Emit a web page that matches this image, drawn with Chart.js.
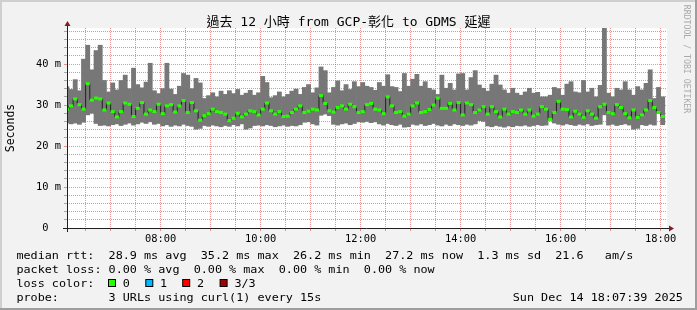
<!DOCTYPE html>
<html>
<head>
<meta charset="utf-8">
<script src="https://cdn.jsdelivr.net/npm/chart.js@4.4.1/dist/chart.umd.min.js"></script>
<style>
  html, body { margin: 0; padding: 0; background: #f2f2f2; }
  #wrap { position: relative; width: 697px; height: 310px; }
  canvas { display: block; }
</style>
</head>
<body>
<div id="wrap"><canvas id="c" width="697" height="310"></canvas></div>
<script>
// ---------------- data ----------------
const START_TIME = '06:07:39';
const END_TIME = '18:07:39';
const FIRST_BAR = '06:05';
const STEP_MIN = 5;
const Y_MAX = 48.8;

const maxRtt = [
  34.5, 33.8, 36.2, 33.5, 41.2, 44.6, 38.6, 43.3, 44.6, 36.0, 33.2, 35.4, 33.7, 36.0, 37.3,
  34.0, 39.0, 35.0, 34.2, 35.6, 40.2, 33.5, 32.8, 34.0, 40.2, 33.9, 32.6, 34.6, 37.7,
  37.3, 34.0, 36.5, 35.4, 31.6, 32.3, 33.0, 32.0, 33.4, 32.6, 33.5, 32.8, 33.8, 32.4, 32.9,
  33.6, 32.4, 33.0, 37.0, 35.5, 31.8, 32.3, 33.2, 32.0, 32.6, 33.4, 33.9, 32.6, 34.3,
  35.0, 33.0, 34.2, 39.3, 38.4, 33.0, 34.3, 35.9, 33.5, 35.0, 33.8, 35.7, 34.5, 35.5, 34.6,
  34.3, 33.6, 35.5, 34.6, 37.4, 34.5, 34.3, 33.3, 37.7, 34.6, 36.3, 37.5, 34.6,
  35.7, 34.1, 33.7, 32.6, 37.3, 34.1, 35.3, 33.7, 37.6, 37.7, 33.7, 36.7, 38.4, 34.9, 34.1,
  33.4, 35.1, 37.3, 34.9, 33.7, 32.9, 34.1, 32.9, 32.4, 33.2, 34.1, 32.9, 33.1, 32.0,
  32.0, 32.4, 34.3, 34.0, 32.4, 35.1, 35.7, 33.2, 33.0, 36.0, 33.2, 34.1, 32.0, 34.8, 48.8,
  32.9, 32.0, 34.1, 33.7, 35.7, 33.7, 32.4, 34.5, 33.7, 35.3, 38.6, 31.6, 34.3, 32.0
];
const minRtt = [
  25.7, 25.4, 25.6, 25.3, 25.8, 27.6, 28.0, 25.5, 25.0, 25.1, 24.9, 25.2,
  25.4, 25.0, 25.3, 25.6, 25.1, 25.4, 25.8, 25.5, 25.9, 25.3, 25.5,
  24.9, 25.2, 24.8, 25.1, 24.9, 25.3, 25.0, 24.8, 24.1, 24.3,
  25.0, 24.8, 25.1, 24.9, 24.7, 25.0, 24.8, 25.2, 24.9, 25.4, 24.1, 24.4,
  25.0, 25.1, 24.9, 25.2, 25.0, 24.7, 24.9, 25.1, 24.8, 25.0, 24.9, 25.2, 25.8,
  25.9, 25.4, 25.1, 27.5, 27.8, 27.4, 25.3, 25.1, 25.4, 25.6, 25.2, 25.5,
  25.9, 25.8, 26.0, 25.7, 25.9, 25.4, 25.1, 25.5, 25.2, 25.0, 25.3, 24.6, 24.7,
  25.3, 25.1, 25.4, 25.0, 25.2, 25.5, 25.1, 24.9, 25.3, 25.0, 25.4, 25.2, 25.0, 25.3, 25.1, 25.4,
  26.2, 26.0, 24.9, 24.7, 25.0, 24.8, 24.6, 24.9, 24.7,
  25.0, 24.9, 25.1, 24.8, 25.0, 25.2, 25.0, 25.1, 26.3, 25.6,
  25.3, 25.1, 25.4, 25.2, 25.0, 25.3, 25.1, 25.4, 25.0, 25.2, 25.3, 27.6,
  25.1, 25.3, 25.0, 25.2, 25.4, 25.1, 24.1, 24.3, 25.2, 25.0, 25.3, 25.1, 27.9, 25.2
];
const medianRtt = [
  29.0, 29.8, 31.5, 30.1, 29.0, 35.2, 31.2, 31.7, 31.5, 28.8, 30.5, 28.4, 27.1, 28.4, 30.5,
  30.2, 27.2, 29.2, 30.6, 27.8, 28.8, 28.4, 30.2, 27.9, 29.8, 30.1, 28.3, 29.8, 31.1,
  28.2, 30.6, 28.6, 26.3, 27.4, 27.9, 29.0, 28.4, 28.2, 27.8, 26.2, 26.8, 28.0, 27.1, 27.8,
  28.6, 28.4, 27.6, 29.0, 30.5, 28.6, 27.8, 28.4, 27.2, 27.3, 28.2, 29.0, 29.8, 28.2,
  28.5, 29.0, 28.8, 32.3, 30.4, 28.6, 28.3, 29.4, 29.8, 29.0, 30.2, 29.6, 28.2, 28.4, 30.1,
  30.4, 29.0, 28.8, 27.9, 32.0, 29.8, 28.2, 28.4, 27.3, 27.8, 29.8, 30.5, 28.2,
  28.4, 28.9, 30.0, 31.7, 29.2, 29.2, 30.4, 28.8, 30.6, 27.6, 30.5, 30.1, 28.2, 28.8, 29.6,
  27.8, 29.6, 28.4, 27.1, 29.0, 27.8, 28.4, 28.2, 28.8, 27.8, 28.8, 27.3, 27.8, 29.6,
  29.0, 26.5, 28.2, 30.9, 29.0, 28.9, 27.1, 28.5, 27.8, 27.0, 28.6, 27.8, 26.8, 29.6, 30.2,
  28.2, 27.9, 30.1, 29.4, 27.9, 26.9, 28.8, 27.0, 27.6, 28.8, 31.1, 29.4, 28.2, 27.2
];

const xTickLabels = ['08:00', '10:00', '12:00', '14:00', '16:00', '18:00'];
const yLabelValues = [0, 10, 20, 30, 40];
const yTickLabels = ['0', '10 m', '20 m', '30 m', '40 m'];

const titleText = '過去 12 小時 from GCP-彰化 to GDMS 延遲';
const yAxisTitle = 'Seconds';
const watermark = 'RRDTOOL / TOBI OETIKER';
const rttHead = 'median rtt:';
const rttStats = ['28.9 ms avg', '35.2 ms max', '26.2 ms min', '27.2 ms now', '1.3 ms sd', '21.6   am/s'];
const lossHead = 'packet loss:';
const lossStats = ['0.00 % avg', '0.00 % max', '0.00 % min', '0.00 % now'];
const colorHead = 'loss color:';
const lossLabels = ['0', '1', '2', '3/3'];
const lossColors = ['#26ff00', '#00b8ff', '#ff0000', '#a10000'];
const probeHead = 'probe:';
const probeText = '3 URLs using curl(1) every 15s';
const stampText = 'Sun Dec 14 18:07:39 2025';

// ---------------- build ----------------
function toMin(t) {
  const p = t.split(':').map(Number);
  return p[0] * 60 + p[1] + (p[2] || 0) / 60;
}
function fmt(m) {
  const h = Math.floor(m / 60), mm = Math.round(m % 60);
  return String(h).padStart(2, '0') + ':' + String(mm).padStart(2, '0');
}
const xMin = toMin(START_TIME), xMax = toMin(END_TIME);
const barStart = toMin(FIRST_BAR);
const barX = maxRtt.map((_, i) => barStart + STEP_MIN * (i + 0.5));

const smokeData = barX.map((x, i) => ({ x, y: [minRtt[i], maxRtt[i]] }));
const medianData = barX.map((x, i) => ({ x, y: medianRtt[i] }));

const xGridTicks = [];
for (let m = Math.ceil(xMin / 30) * 30; m <= xMax; m += 30) xGridTicks.push(m);
const yGridTicks = [];
for (let v = 0; v <= Y_MAX; v += 2) yGridTicks.push(v);

const MONO = "'DejaVu Sans Mono', monospace";
const GRID = 'rgba(143,143,143,0.75)';
const MGRID = 'rgba(222,79,79,0.6)';
const AXIS = '#1f1f1f';
const ARROW = '#801f1f';
const LEG_FONT = "11px " + MONO;
const LEG_ADV = 7.09;   // column width of the legend text, px

const deco = {
  id: 'deco',
  beforeDraw(chart) {
    const { ctx, chartArea: a, width: W, height: H } = chart;
    ctx.save();
    ctx.fillStyle = '#f2f2f2';
    ctx.fillRect(0, 0, W, H);
    ctx.fillStyle = '#cfcfcf';
    ctx.fillRect(0, 0, W, 2);
    ctx.fillRect(0, 0, 2, H);
    ctx.fillStyle = '#9e9e9e';
    ctx.fillRect(0, H - 2, W, 2);
    ctx.fillRect(W - 2, 0, 2, H);
    ctx.fillStyle = '#ffffff';
    ctx.fillRect(a.left, a.top, a.right - a.left, a.bottom - a.top);
    ctx.restore();
  },
  afterDraw(chart) {
    const { ctx, chartArea: a, width: W } = chart;
    const xs = chart.scales.x, ys = chart.scales.y;
    const x0 = Math.round(xs.getPixelForValue(xMin)) + 0.5;
    const y0 = Math.round(ys.getPixelForValue(0)) + 0.5;
    ctx.save();
    // title
    ctx.font = "13px 'DejaVu Sans Mono', 'Noto Sans CJK TC', monospace";
    ctx.fillStyle = '#000';
    ctx.textAlign = 'center';
    ctx.textBaseline = 'middle';
    ctx.fillText(titleText, W / 2, 23);

    // axes
    ctx.strokeStyle = AXIS;
    ctx.lineWidth = 1;
    ctx.beginPath();
    ctx.moveTo(a.left - 4, y0); ctx.lineTo(a.right + 3, y0);
    ctx.moveTo(x0, a.bottom + 4); ctx.lineTo(x0, a.top - 4);
    ctx.stroke();
    // arrows
    ctx.fillStyle = ARROW;
    ctx.beginPath();
    ctx.moveTo(a.right + 2, y0 - 3); ctx.lineTo(a.right + 7, y0); ctx.lineTo(a.right + 2, y0 + 3);
    ctx.closePath(); ctx.fill();
    ctx.beginPath();
    ctx.moveTo(x0 - 3, a.top - 2); ctx.lineTo(x0, a.top - 7); ctx.lineTo(x0 + 3, a.top - 2);
    ctx.closePath(); ctx.fill();

    // watermark
    ctx.save();
    ctx.translate(686.5, 59);
    ctx.rotate(Math.PI / 2);
    ctx.font = "8.2px " + MONO;
    ctx.fillStyle = '#aaaaaa';
    ctx.textAlign = 'center';
    ctx.textBaseline = 'middle';
    ctx.fillText(watermark, 0, 0);
    ctx.restore();

    // legend (monospace columns)
    ctx.font = LEG_FONT;
    ctx.textBaseline = 'middle';
    const sx = LEG_ADV / ctx.measureText('0').width;
    const L = 16.4;
    const col = (n) => L + n * LEG_ADV;
    const text = (s, x, y, align) => {
      ctx.save();
      ctx.translate(x, y);
      ctx.scale(sx, 1);
      ctx.textAlign = align || 'left';
      ctx.fillStyle = '#000';
      ctx.fillText(s, 0, 0);
      ctx.restore();
    };
    const r1 = 256, r2 = 270, r3 = 284, r4 = 298;
    text(rttHead, col(0), r1);
    text(rttStats.join('\u00a0\u00a0'), col(13), r1);
    text(lossHead, col(0), r2);
    text(lossStats.join('\u00a0\u00a0'), col(13), r2);
    text(colorHead, col(0), r3);
    const boxX = [108, 145.3, 182.2, 219.6];
    lossLabels.forEach((t, i) => {
      ctx.fillStyle = lossColors[i];
      ctx.fillRect(boxX[i] + 0.5, r3 - 4.5, 7, 7);
      ctx.strokeStyle = '#000';
      ctx.lineWidth = 1;
      ctx.strokeRect(boxX[i] + 0.5, r3 - 4.5, 7, 7);
      text(t, boxX[i] + 14.8, r3);
    });
    text(probeHead, col(0), r4);
    text(probeText, col(13), r4);
    text(stampText, col(94), r4, 'right');
    ctx.restore();
  }
};

const stepPx = (c) => {
  const s = c.chart.scales.x;
  return (s.getPixelForValue(STEP_MIN) - s.getPixelForValue(0)) / 2;
};

new Chart(document.getElementById('c'), {
  type: 'bar',
  data: {
    datasets: [
      {
        type: 'bar',
        data: smokeData,
        backgroundColor: '#777777',
        borderWidth: 0,
        barPercentage: 1,
        categoryPercentage: 1,
        order: 3
      },
      {
        type: 'line',
        data: medianData,
        stepped: 'middle',
        borderColor: '#202020',
        borderWidth: 1,
        pointRadius: 0,
        fill: false,
        order: 2
      },
      {
        type: 'line',
        data: medianData,
        showLine: false,
        pointStyle: 'line',
        pointRadius: stepPx,
        pointBorderWidth: 3,
        pointBorderColor: lossColors[0],
        pointBackgroundColor: lossColors[0],
        order: 1
      }
    ]
  },
  options: {
    responsive: false,
    devicePixelRatio: 1,
    animation: false,
    events: [],
    layout: { padding: { top: 28, right: 30, bottom: 60, left: 0 } },
    plugins: {
      legend: { display: false },
      tooltip: { enabled: false },
      title: { display: false }
    },
    scales: {
      x: {
        type: 'linear',
        min: xMin,
        max: xMax,
        offset: false,
        z: 1,
        afterBuildTicks: (s) => { s.ticks = xGridTicks.map(v => ({ value: v })); },
        afterFit: (s) => { s.height = 22; },
        ticks: {
          autoSkip: false,
          maxRotation: 0,
          minRotation: 0,
          padding: 2,
          color: '#000',
          font: { family: MONO, size: 10.4 },
          callback: (v) => { const l = fmt(v); return xTickLabels.includes(l) ? l : ''; }
        },
        grid: {
          offset: false,
          color: (c) => (c.tick && c.tick.value % 60 === 0) ? MGRID : GRID,
          lineWidth: 1,
          drawTicks: true,
          tickLength: 3
        },
        border: { display: false, dash: [1, 1] }
      },
      y: {
        type: 'linear',
        min: 0,
        max: Y_MAX,
        z: 1,
        afterBuildTicks: (s) => { s.ticks = yGridTicks.map(v => ({ value: v })); },
        afterFit: (s) => { s.width = 67; },
        ticks: {
          autoSkip: false,
          padding: 3,
          color: '#000',
          font: { family: MONO, size: 10.4 },
          callback: (v) => {
            const k = yLabelValues.indexOf(v);
            if (k < 0) return '';
            return v === 0 ? yTickLabels[k] + '\u00a0\u00a0' : yTickLabels[k];
          }
        },
        grid: {
          color: (c) => (c.tick && c.tick.value % 10 === 0) ? MGRID : GRID,
          lineWidth: 1,
          drawTicks: true,
          tickLength: 3
        },
        border: { display: false, dash: [1, 1] },
        title: {
          display: true,
          text: yAxisTitle,
          color: '#000',
          font: { family: MONO, size: 11.5 },
          padding: { top: 4, bottom: 0 }
        }
      }
    }
  },
  plugins: [deco]
});
</script>
</body>
</html>
